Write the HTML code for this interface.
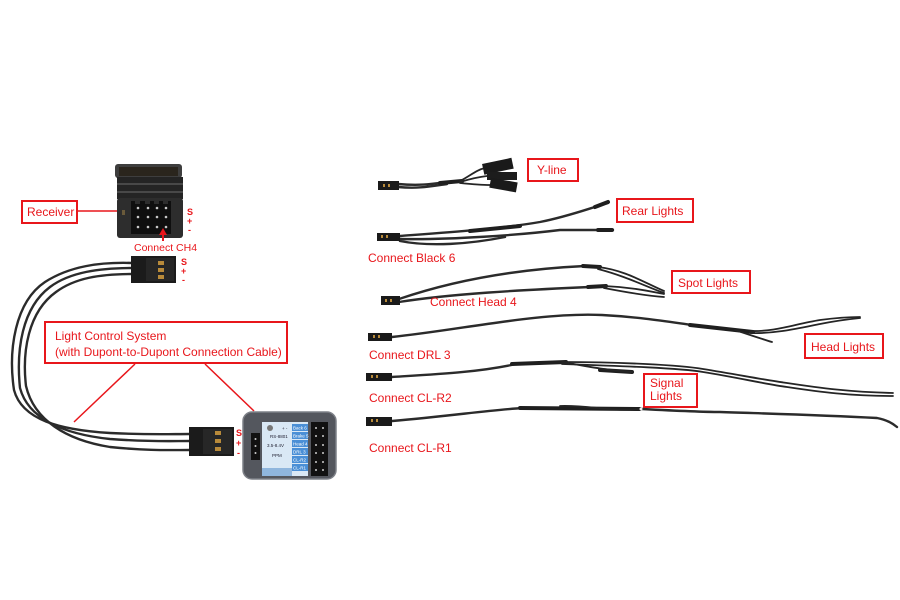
<!DOCTYPE html>
<html><head><meta charset="utf-8"><style>
html,body{margin:0;padding:0;background:#fff;}
svg{display:block;}
text{font-family:"Liberation Sans",Arial,sans-serif;}
.lbl{fill:#e8161b;font-size:12px;}
.box{fill:#fff;stroke:#e8161b;stroke-width:2;}
.w{fill:none;stroke:#2b2b2b;stroke-width:2.4;stroke-linecap:round;}
.wt{fill:none;stroke:#252525;stroke-width:1.8;stroke-linecap:round;}
.sl{fill:none;stroke:#1f1f1f;stroke-width:4;stroke-linecap:round;}
.pm{fill:#e8161b;font-size:9px;font-weight:bold;}
</style></head><body>
<svg width="900" height="600" viewBox="0 0 900 600" xmlns="http://www.w3.org/2000/svg">
<rect width="900" height="600" fill="#fff"/>

<!-- ===== Receiver ===== -->
<rect x="115" y="164" width="67" height="14" rx="3" fill="#3e3e3e"/>
<rect x="119" y="167" width="59" height="9" fill="#2a251d"/>
<rect x="117" y="177" width="66" height="22" fill="#242424"/>
<line x1="117" y1="184" x2="183" y2="184" stroke="#555" stroke-width="1.5"/>
<line x1="117" y1="192" x2="183" y2="192" stroke="#555" stroke-width="1.5"/>
<rect x="117" y="198" width="66" height="40" rx="3" fill="#2d2d2d"/>
<rect x="131" y="201" width="40" height="33" fill="#0f0f0f"/>
<g fill="#2d2d2d"><rect x="135" y="201" width="5" height="3"/><rect x="145" y="201" width="5" height="3"/><rect x="154" y="201" width="5" height="3"/><rect x="163" y="201" width="5" height="3"/></g>
<g fill="#c8c8c8">
<circle cx="138" cy="208" r="1.3"/><circle cx="148" cy="208" r="1.3"/><circle cx="157" cy="208" r="1.3"/><circle cx="166" cy="208" r="1.3"/>
<circle cx="138" cy="217" r="1.3"/><circle cx="148" cy="217" r="1.3"/><circle cx="157" cy="217" r="1.3"/><circle cx="166" cy="217" r="1.3"/>
<circle cx="138" cy="227" r="1.3"/><circle cx="148" cy="227" r="1.3"/><circle cx="157" cy="227" r="1.3"/><circle cx="166" cy="227" r="1.3"/>
</g>
<rect x="122" y="210" width="3" height="5" fill="#6a5a3a"/>
<text x="187" y="215" class="pm">S</text>
<text x="187" y="224" class="pm">+</text>
<text x="188" y="233" class="pm">-</text>
<!-- red arrow -->
<line x1="163" y1="241" x2="163" y2="233" stroke="#e8161b" stroke-width="2"/>
<polygon points="163,228 159,235 167,235" fill="#e8161b"/>
<text x="134" y="251" style="fill:#e8161b;font-size:10.5px;">Connect CH4</text>

<!-- Receiver label -->
<line x1="77" y1="211" x2="117" y2="211" stroke="#e8161b" stroke-width="1.5"/>
<rect x="22" y="201" width="55" height="22" class="box"/>
<text x="27" y="216" class="lbl">Receiver</text>

<!-- ===== Loop cable ===== -->
<path class="w" d="M132,263 C100,262 70,266 45,282 C15,302 8,350 14,390 C22,420 60,430 110,433 C150,435 170,434 190,434"/>
<path class="w" d="M132,268 C100,268 70,272 50,287 C22,308 16,350 20,388 C28,418 62,434 110,439 C150,442 170,441 190,441"/>
<path class="w" d="M132,274 C100,274 75,278 56,292 C28,312 22,352 26,386 C34,420 66,440 110,447 C150,451 170,450 190,450"/>
<!-- top connector -->
<rect x="131" y="256" width="45" height="27" fill="#1b1b1b"/>
<rect x="146" y="258" width="28" height="23" fill="#262626"/>
<g fill="#b88a3a"><rect x="158" y="261" width="6" height="4"/><rect x="158" y="268" width="6" height="4"/><rect x="158" y="275" width="6" height="4"/></g>
<text x="181" y="265" class="pm">S</text>
<text x="181" y="274" class="pm">+</text>
<text x="182" y="283" class="pm">-</text>

<!-- ===== LCS label ===== -->
<line x1="135" y1="364" x2="74" y2="422" stroke="#e8161b" stroke-width="1.5"/>
<line x1="205" y1="364" x2="254" y2="411" stroke="#e8161b" stroke-width="1.5"/>
<rect x="45" y="322" width="242" height="41" class="box"/>
<text x="55" y="340" class="lbl">Light Control System</text>
<text x="55" y="356" class="lbl">(with Dupont-to-Dupont Connection Cable)</text>

<!-- LCS connector -->
<rect x="189" y="427" width="45" height="29" fill="#1b1b1b"/>
<rect x="203" y="429" width="29" height="25" fill="#272727"/>
<g fill="#b88a3a"><rect x="215" y="431" width="6" height="4"/><rect x="215" y="439" width="6" height="4"/><rect x="215" y="447" width="6" height="4"/></g>
<text x="236" y="436" class="pm">S</text>
<text x="236" y="446" class="pm">+</text>
<text x="237" y="456" class="pm">-</text>

<!-- LCS device -->
<rect x="243" y="412" width="93" height="67" rx="9" fill="#54575e" stroke="#7d8087" stroke-width="1.5"/>
<rect x="251" y="433" width="9" height="27" fill="#111"/>
<g fill="#ccc"><circle cx="255.5" cy="439" r="1"/><circle cx="255.5" cy="446" r="1"/><circle cx="255.5" cy="453" r="1"/></g>
<rect x="262" y="422" width="46" height="54" fill="#d9e8f5"/>
<rect x="262" y="468" width="30" height="8" fill="#8fb6dd"/>
<g fill="#4a8fd6">
<rect x="292" y="424" width="16" height="7"/><rect x="292" y="432" width="16" height="7"/><rect x="292" y="440" width="16" height="7"/>
<rect x="292" y="448" width="16" height="7"/><rect x="292" y="456" width="16" height="7"/><rect x="292" y="464" width="16" height="7"/>
</g>
<g style="font-size:4.5px;fill:#fff;">
<text x="293" y="429.5">Back 6</text><text x="293" y="437.5">Brake 5</text><text x="293" y="445.5">Head 4</text>
<text x="293" y="453.5">DRL 3</text><text x="293" y="461.5">CL-R2</text><text x="293" y="469.5">CL-R1</text>
</g>
<circle cx="270" cy="428" r="3" fill="#777"/>
<g style="font-size:4.5px;fill:#223;">
<text x="282" y="430">+ -</text><text x="270" y="438">RS-8801</text><text x="267" y="447">3.5-8.4V</text><text x="272" y="457">PPM</text>
</g>
<rect x="311" y="422" width="17" height="54" fill="#111"/>
<g fill="#ccc">
<circle cx="316" cy="428" r="1"/><circle cx="323" cy="428" r="1"/>
<circle cx="316" cy="436" r="1"/><circle cx="323" cy="436" r="1"/>
<circle cx="316" cy="445" r="1"/><circle cx="323" cy="445" r="1"/>
<circle cx="316" cy="453" r="1"/><circle cx="323" cy="453" r="1"/>
<circle cx="316" cy="462" r="1"/><circle cx="323" cy="462" r="1"/>
<circle cx="316" cy="470" r="1"/><circle cx="323" cy="470" r="1"/>
</g>

<!-- ===== Y-line ===== -->
<path class="w" d="M398,184 C420,186 432,184 447,182"/>
<path class="w" d="M398,187 C420,189 432,186 447,184"/>
<path class="sl" d="M440,183 L462,181"/>
<path class="wt" d="M460,181 C470,176 476,170 485,168"/>
<path class="wt" d="M460,182 C470,179 478,177 487,176"/>
<path class="wt" d="M460,183 C470,184 480,185 490,185"/>
<g transform="rotate(-12 497 167)"><rect x="483" y="161" width="30" height="11" fill="#1a1a1a"/></g>
<rect x="487" y="172" width="30" height="8" fill="#1c1c1c"/>
<g transform="rotate(10 503 185)"><rect x="490" y="180" width="27" height="10" fill="#1a1a1a"/></g>
<rect x="378" y="181" width="21" height="9" fill="#1a1a1a"/>
<rect x="383" y="184" width="2" height="3" fill="#b88a3a"/><rect x="388" y="184" width="2" height="3" fill="#b88a3a"/>
<rect x="528" y="159" width="50" height="22" class="box"/>
<text x="537" y="174" class="lbl">Y-line</text>

<!-- ===== Rear Lights ===== -->
<path class="w" d="M400,236 C440,233 500,229 540,222 C570,216 590,208 608,203"/>
<path class="w" d="M400,239 C450,240 520,235 560,230 L613,230"/>
<path class="w" d="M400,241 C430,247 470,244 505,237"/>
<path class="sl" d="M470,231 L520,226"/>
<path class="sl" d="M595,207 L608,202"/>
<path class="sl" d="M598,230 L612,230"/>
<rect x="377" y="233" width="23" height="8" fill="#1a1a1a"/>
<rect x="381" y="235" width="2" height="3" fill="#b88a3a"/><rect x="386" y="235" width="2" height="3" fill="#b88a3a"/>
<rect x="617" y="199" width="76" height="23" class="box"/>
<text x="622" y="215" class="lbl">Rear Lights</text>
<text x="368" y="262" class="lbl">Connect Black 6</text>

<!-- ===== Spot Lights ===== -->
<path class="w" d="M399,299 C440,285 500,270 585,266"/>
<path class="w" d="M399,302 C450,294 520,290 590,287"/>
<path class="sl" d="M583,266 L600,267"/>
<path class="sl" d="M588,287 L606,286"/>
<path class="wt" d="M598,267 C625,270 645,283 664,291"/>
<path class="wt" d="M598,269 C625,276 645,286 664,293"/>
<path class="wt" d="M604,286 C630,287 648,291 664,294"/>
<path class="wt" d="M604,288 C630,293 648,296 664,297"/>
<rect x="381" y="296" width="19" height="9" fill="#1a1a1a"/>
<rect x="385" y="299" width="2" height="3" fill="#b88a3a"/><rect x="390" y="299" width="2" height="3" fill="#b88a3a"/>
<rect x="672" y="271" width="78" height="22" class="box"/>
<text x="678" y="287" class="lbl">Spot Lights</text>
<text x="430" y="306" class="lbl">Connect Head 4</text>

<!-- ===== Head Lights ===== -->
<path class="w" d="M392,337 C460,330 540,312 602,315 C640,317 670,322 692,325"/>
<path class="sl" d="M690,325 L753,332"/>
<path class="wt" d="M735,330 C750,335 762,339 772,342"/>
<path class="wt" d="M750,331 C775,332 795,324 820,320 C835,318 850,317 860,317"/>
<path class="wt" d="M750,333 C775,334 800,328 820,324 C835,321 850,319 860,318"/>
<rect x="368" y="333" width="24" height="8" fill="#1a1a1a"/>
<rect x="373" y="335" width="2" height="3" fill="#b88a3a"/><rect x="378" y="335" width="2" height="3" fill="#b88a3a"/>
<rect x="805" y="334" width="78" height="24" class="box"/>
<text x="811" y="351" class="lbl">Head Lights</text>
<text x="369" y="359" class="lbl">Connect DRL 3</text>

<!-- ===== CL-R2 ===== -->
<path class="w" d="M392,377 C440,374 480,372 516,364"/>
<path class="sl" d="M512,364 L566,362"/>
<path class="sl" d="M600,370 L632,372"/>
<path class="wt" d="M562,362 C585,366 605,370 632,372"/>
<path class="wt" d="M562,362 C620,362 680,365 703,369 C740,375 765,380 787,383 C820,388 850,392 893,393"/>
<path class="wt" d="M562,364 C620,366 680,368 703,372 C740,378 765,384 787,387 C820,392 850,396 893,396"/>
<rect x="366" y="373" width="26" height="8" fill="#1a1a1a"/>
<rect x="371" y="375" width="2" height="3" fill="#b88a3a"/><rect x="376" y="375" width="2" height="3" fill="#b88a3a"/>
<rect x="644" y="374" width="53" height="33" class="box"/>
<text x="650" y="387" class="lbl">Signal</text>
<text x="650" y="400" class="lbl">Lights</text>
<text x="369" y="402" class="lbl">Connect CL-R2</text>

<!-- ===== CL-R1 ===== -->
<path class="w" d="M392,421 C450,416 490,410 523,408 L540,408"/>
<path class="sl" d="M520,408 L640,409"/>
<path class="wt" d="M560,406 C590,405 610,412 640,409"/>
<path class="w" d="M642,409 C680,411 700,412 720,412 C780,414 820,415 877,418 C887,420 892,423 897,427"/>
<circle cx="641" cy="409" r="1.5" fill="#eee"/>
<rect x="366" y="417" width="26" height="9" fill="#1a1a1a"/>
<rect x="371" y="419" width="2" height="3" fill="#b88a3a"/><rect x="376" y="419" width="2" height="3" fill="#b88a3a"/>
<text x="369" y="452" class="lbl">Connect CL-R1</text>
</svg>
</body></html>
